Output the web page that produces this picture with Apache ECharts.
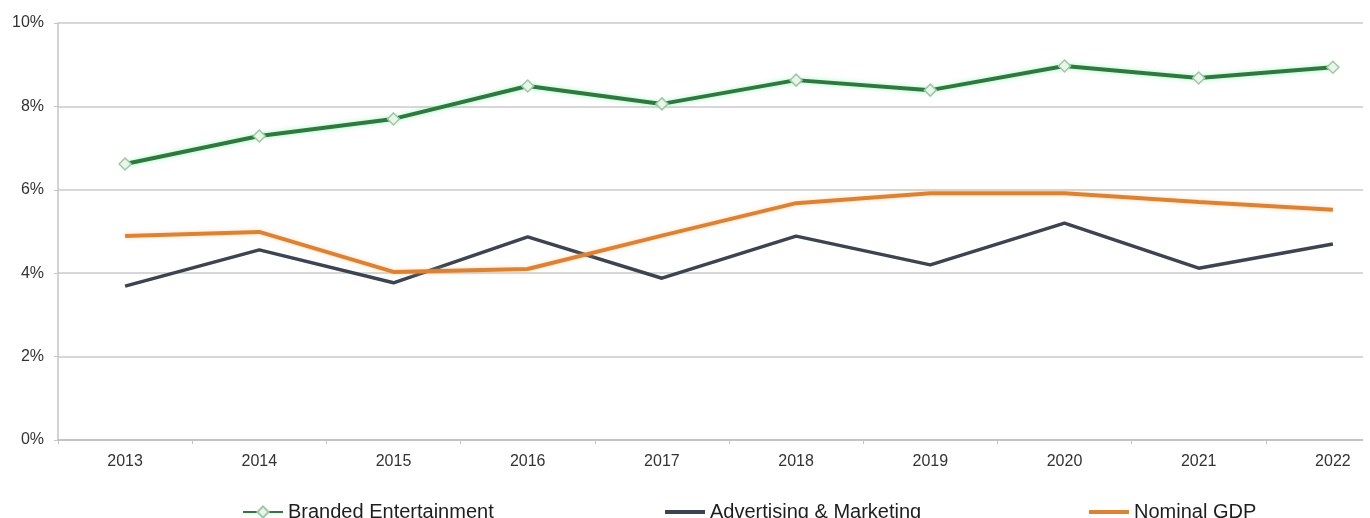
<!DOCTYPE html>
<html>
<head>
<meta charset="utf-8">
<script src="https://cdn.jsdelivr.net/npm/echarts@6/dist/echarts.min.js"></script>
<style>
html,body{margin:0;padding:0;background:#fff;}
#c{width:1370px;height:518px;}
</style>
</head>
<body>
<div id="c"></div>
<script>
const categories = ['2013','2014','2015','2016','2017','2018','2019','2020','2021','2022'];
const brandedEntertainment = [6.62, 7.29, 7.70, 8.49, 8.06, 8.63, 8.39, 8.97, 8.68, 8.94];
const advertisingMarketing = [3.69, 4.56, 3.77, 4.87, 3.88, 4.89, 4.20, 5.20, 4.12, 4.70];
const nominalGDP = [4.89, 4.99, 4.03, 4.10, 4.90, 5.68, 5.92, 5.92, 5.71, 5.52];
const yTicks = [0, 2, 4, 6, 8, 10];

const chart = echarts.init(document.getElementById('c'), null, {renderer: 'canvas'});
const font = 'Liberation Sans, Arial, sans-serif';
const legendBase = {
  top: 497, itemWidth: 40, itemHeight: 14,
  textStyle: {fontFamily: font, fontSize: 20, color: '#1e1e1e'},
  selectedMode: false
};
chart.setOption({
  animation: false,
  backgroundColor: '#fff',
  grid: {left: 58, width: 1342, top: 23, height: 417, containLabel: false, outerBoundsMode: 'none'},
  legend: [
    Object.assign({left: 237, data: ['Branded Entertainment']}, legendBase),
    Object.assign({left: 660, data: [{name: 'Advertising & Marketing', icon: 'rect'}]}, legendBase, {itemHeight: 4}),
    Object.assign({left: 1084, data: [{name: 'Nominal GDP', icon: 'rect'}]}, legendBase, {itemHeight: 4})
  ],
  xAxis: {
    type: 'category',
    data: categories,
    boundaryGap: true,
    axisLine: {lineStyle: {color: '#c4c4c4', width: 2}},
    axisTick: {show: true, length: 4, lineStyle: {color: '#c4c4c4'}},
    axisLabel: {fontFamily: font, fontSize: 16, color: '#333', margin: 14}
  },
  yAxis: {
    type: 'value',
    min: 0, max: 10, interval: 2,
    axisLine: {show: true, lineStyle: {color: '#c4c4c4', width: 1.5}},
    axisTick: {show: true, length: 4, lineStyle: {color: '#c4c4c4'}},
    splitLine: {lineStyle: {color: '#cacaca', width: 1.5}},
    axisLabel: {fontFamily: font, fontSize: 16, color: '#333', margin: 14,
      formatter: v => yTicks.includes(v) ? v + '%' : ''}
  },
  series: [
    {
      name: 'Branded Entertainment', type: 'line', data: brandedEntertainment,
      symbol: 'diamond', symbolSize: 12,
      itemStyle: {color: '#eaf5ea', borderColor: '#9dc8a6', borderWidth: 1.5},
      lineStyle: {color: '#2c7a3c', width: 4, shadowColor: 'rgba(110,230,160,0.55)', shadowBlur: 5},
      z: 3
    },
    {
      name: 'Advertising & Marketing', type: 'line', data: advertisingMarketing,
      symbol: 'none',
      itemStyle: {color: '#3b4450'},
      lineStyle: {color: '#3b4450', width: 3.5},
      z: 2
    },
    {
      name: 'Nominal GDP', type: 'line', data: nominalGDP,
      symbol: 'none',
      itemStyle: {color: '#dd8233'},
      lineStyle: {color: '#dd8233', width: 4, shadowColor: 'rgba(250,190,130,0.5)', shadowBlur: 4},
      z: 2
    }
  ],
  graphic: [{
    type: 'rect', left: 1363, top: 0, shape: {width: 10, height: 450},
    style: {fill: '#fff'}, z: 100, silent: true
  }]
});
</script>
</body>
</html>
